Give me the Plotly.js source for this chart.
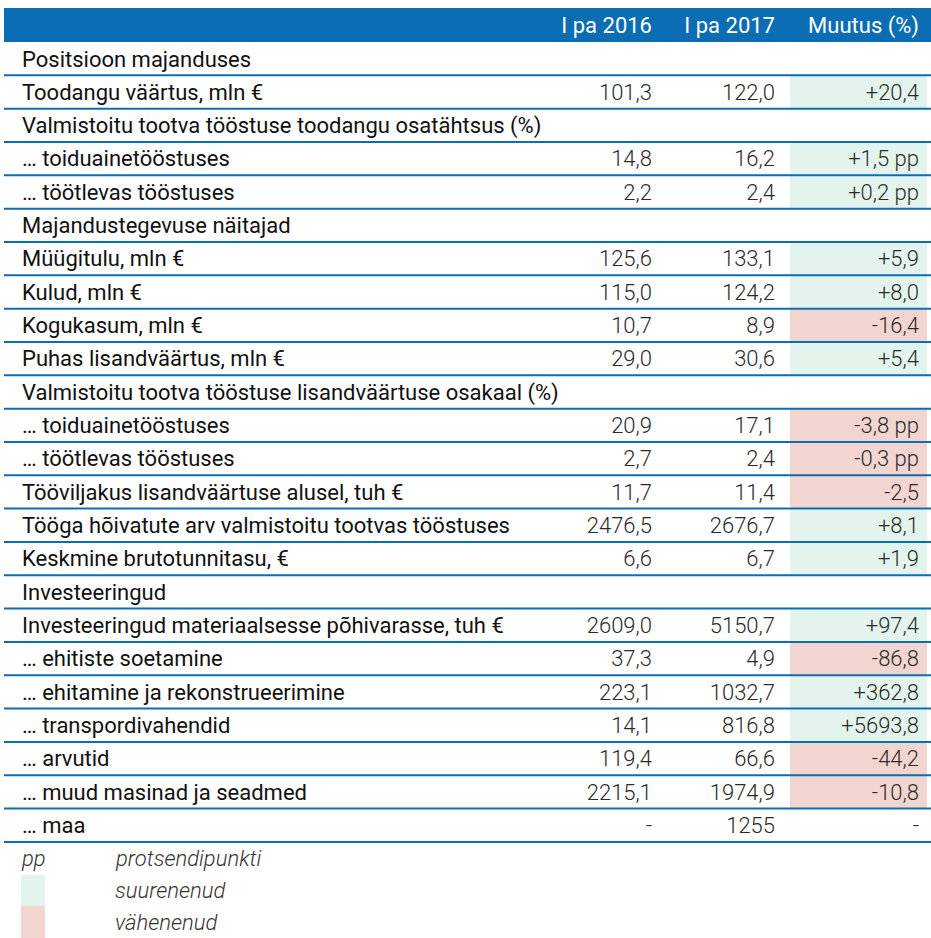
<!DOCTYPE html>
<html><head><meta charset="utf-8">
<script src="https://cdn.plot.ly/plotly-3.0.1.min.js"></script>
<style>html,body{margin:0;padding:0;background:#fff}</style>
</head><body><div id="chart" style="width:931px;height:938px"></div>
<script>
const headers = ['I pa 2016', 'I pa 2017', 'Muutus (%)'];
const labels = [
  'Positsioon majanduses',
  'Toodangu väärtus, mln €',
  'Valmistoitu tootva tööstuse toodangu osatähtsus (%)',
  '… toiduainetööstuses',
  '… töötlevas tööstuses',
  'Majandustegevuse näitajad',
  'Müügitulu, mln €',
  'Kulud, mln €',
  'Kogukasum, mln €',
  'Puhas lisandväärtus, mln €',
  'Valmistoitu tootva tööstuse lisandväärtuse osakaal (%)',
  '… toiduainetööstuses',
  '… töötlevas tööstuses',
  'Tööviljakus lisandväärtuse alusel, tuh €',
  'Tööga hõivatute arv valmistoitu tootvas tööstuses',
  'Keskmine brutotunnitasu, €',
  'Investeeringud',
  'Investeeringud materiaalsesse põhivarasse, tuh €',
  '… ehitiste soetamine',
  '… ehitamine ja rekonstrueerimine',
  '… transpordivahendid',
  '… arvutid',
  '… muud masinad ja seadmed',
  '… maa'
];
const values2016 = ['', '101,3', '', '14,8', '2,2', '', '125,6', '115,0', '10,7', '29,0', '', '20,9', '2,7', '11,7', '2476,5', '6,6', '', '2609,0', '37,3', '223,1', '14,1', '119,4', '2215,1', '-'];
const values2017 = ['', '122,0', '', '16,2', '2,4', '', '133,1', '124,2', '8,9', '30,6', '', '17,1', '2,4', '11,4', '2676,7', '6,7', '', '5150,7', '4,9', '1032,7', '816,8', '66,6', '1974,9', '1255'];
const changes = ['', '+20,4', '', '+1,5 pp', '+0,2 pp', '', '+5,9', '+8,0', '-16,4', '+5,4', '', '-3,8 pp', '-0,3 pp', '-2,5', '+8,1', '+1,9', '', '+97,4', '-86,8', '+362,8', '+5693,8', '-44,2', '-10,8', '-'];
const legendItems = [['pp', 'protsendipunkti'], ['', 'suurenenud'], ['', 'vähenenud']];

const W = 931, H = 938;
const BLUE = '#0b6db4';
const GREEN = '#e3f4ec';
const PINK = '#f3d5d0';
const HEADER_TOP = 8, HEADER_H = 34, ROW_H = 33.33;
const FONT = 'Roboto, "Noto Sans", sans-serif';
const nb = s => s.replace(/ /g, '\u00a0');   // keep each text on one line

function fillFor(c) {
  if (c.length > 1 && c[0] === '+') return GREEN;
  if (c.length > 1 && c[0] === '-') return PINK;
  return 'white';
}
const blank = labels.map(() => '');
const changeFill = changes.map(fillFor);

const trace = {
  type: 'table',
  domain: {x: [4 / W, 1], y: [0, 1 - HEADER_TOP / H]},
  columnwidth: [10, 546, 100, 123, 7, 137, 4],
  header: {
    values: ['', '', nb(headers[0]), nb(headers[1]), '', nb(headers[2]), ''],
    align: ['left', 'left', 'right', 'right', 'right', 'right', 'right'],
    height: HEADER_H,
    fill: {color: BLUE},
    line: {width: 0, color: BLUE},
    font: {family: FONT, size: 22, color: 'white'}
  },
  cells: {
    values: [blank, labels.map(nb), values2016, values2017, blank, changes.map(nb), blank],
    align: ['left', 'left', 'right', 'right', 'right', 'right', 'right'],
    height: ROW_H,
    fill: {color: ['white', 'white', 'white', 'white', 'white', changeFill, 'white']},
    line: {width: 0, color: 'rgba(0,0,0,0)'},
    font: {family: FONT, size: 22, color: ['#111', '#111', '#2a2a2a', '#2a2a2a', '#2a2a2a', '#2a2a2a', '#2a2a2a'],
           weight: [400, 400, 300, 300, 300, 300, 300]}
  }
};

const shapes = [];
for (let i = 1; i <= labels.length; i++) {
  const py = HEADER_TOP + HEADER_H + ROW_H * i;
  shapes.push({type: 'line', xref: 'paper', yref: 'paper', x0: 4 / W, x1: 1,
    y0: 1 - py / H, y1: 1 - py / H, line: {color: BLUE, width: 2}, layer: 'above'});
}
// legend swatches
shapes.push({type: 'rect', xref: 'paper', yref: 'paper', x0: 21 / W, x1: 45 / W,
  y0: 1 - 906 / H, y1: 1 - 875 / H, fillcolor: GREEN, line: {width: 0}});
shapes.push({type: 'rect', xref: 'paper', yref: 'paper', x0: 21 / W, x1: 45 / W,
  y0: 0, y1: 1 - 906 / H, fillcolor: PINK, line: {width: 0}});

const annotations = [];
const legY = [858, 890, 922];
legendItems.forEach((it, i) => {
  const f = {family: FONT, size: 22, color: '#333', style: 'italic', weight: 300};
  if (it[0]) annotations.push({xref: 'paper', yref: 'paper', x: 19 / W, y: 1 - legY[i] / H,
    xanchor: 'left', yanchor: 'middle', text: it[0], showarrow: false, font: f});
  annotations.push({xref: 'paper', yref: 'paper', x: 113 / W, y: 1 - legY[i] / H,
    xanchor: 'left', yanchor: 'middle', text: it[1], showarrow: false, font: f});
});

const layout = {
  width: W, height: H,
  margin: {l: 0, r: 0, t: 0, b: 0, pad: 0},
  paper_bgcolor: 'white',
  shapes: shapes,
  annotations: annotations,
  showlegend: false
};

Plotly.newPlot('chart', [trace], layout, {displayModeBar: false, staticPlot: true}).then(gd => {
  const la = gd.querySelector('.main-svg .layer-above');
  if (la) la.parentNode.appendChild(la);
});
</script></body></html>
